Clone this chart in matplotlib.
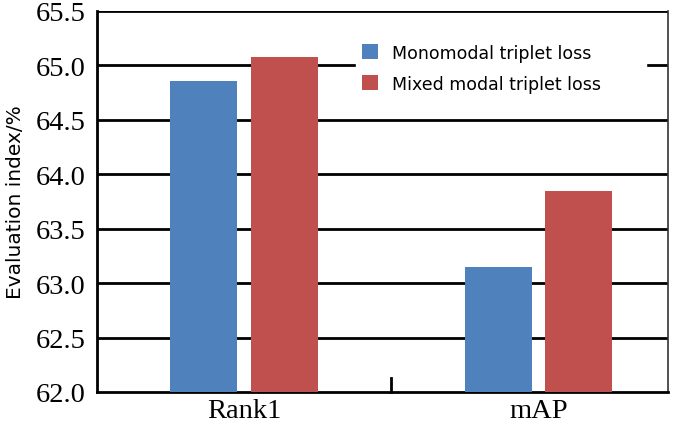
import numpy as np
import matplotlib.pyplot as plt

# valeurs
categories = ['Rank1', 'mAP']
mono = [64.86, 63.15]
mixed = [65.08, 63.85]
labels = ['Monomodal triplet loss', 'Mixed modal triplet loss']
yticks = [62.0, 62.5, 63.0, 63.5, 64.0, 64.5, 65.0, 65.5]

bleu = '#4F81BD'
rouge = '#C0504D'

fig = plt.figure(figsize=(6.85, 4.31), dpi=100)
ax = fig.add_axes([97 / 685, 1 - 393 / 431, 571 / 685, 381 / 431])

x = np.arange(len(categories))
w = 0.228
ax.bar(x - 0.137, mono, w, bottom=0, color=bleu, label=labels[0], zorder=3)
ax.bar(x + 0.137, mixed, w, bottom=0, color=rouge, label=labels[1], zorder=3)

# grille horizontale noire
for v in yticks[1:]:
    ax.axhline(v, color='black', lw=2, zorder=1)
# petit trait au milieu
ax.plot([0.5, 0.5], [62.0, 62.13], color='black', lw=2, zorder=4, clip_on=False)

ax.set_ylim(62.0, 65.5)
ax.set_xlim(-0.5, 1.44)
ax.set_yticks(yticks)
ax.set_yticklabels(['%.1f' % v for v in yticks])
ax.set_xticks(x)
ax.set_xticklabels(categories)
ax.tick_params(axis='both', length=0)
ax.tick_params(axis='y', pad=8)
ax.tick_params(axis='x', pad=4)
for t in ax.get_yticklabels() + ax.get_xticklabels():
    t.set_fontfamily('Liberation Serif')
    t.set_fontsize(20.5)

for s in ['left', 'bottom']:
    ax.spines[s].set_linewidth(2)
ax.spines['top'].set_visible(False)
ax.spines['right'].set_linewidth(1.2)
ax.spines['right'].set_color('#333333')

ax.set_ylabel('Evaluation index/%', family='DejaVu Sans', fontsize=14.5)
ax.yaxis.set_label_coords(-72 / 571, 0.5)

leg = ax.legend(loc='upper left', bbox_to_anchor=(250 / 571, 1.0 - 18 / 381, 308 / 571, 0),
                mode='expand', frameon=True,
                prop={'family': 'DejaVu Sans', 'size': 12.5}, handlelength=0.95,
                handleheight=0.95, handletextpad=0.8, labelspacing=0.75,
                borderpad=0.35, fancybox=False)
leg.get_frame().set_edgecolor('white')
leg.get_frame().set_facecolor('white')
leg.get_frame().set_alpha(1)
leg.set_zorder(5)

plt.savefig('out.png', dpi=100)
